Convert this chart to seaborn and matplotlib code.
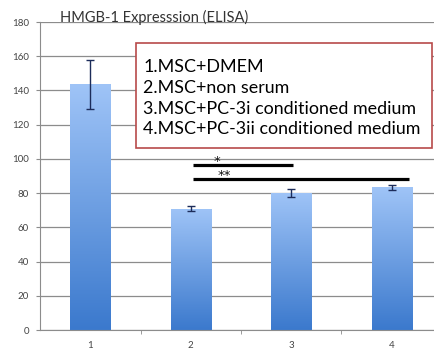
import matplotlib
matplotlib.use('Agg')
import matplotlib.pyplot as plt
import numpy as np
import pandas as pd
import seaborn as sns
from matplotlib.colors import LinearSegmentedColormap
from matplotlib.patches import Rectangle

groups = ['1', '2', '3', '4']
means = [143.5, 71.0, 80.2, 83.3]
errors = [14.5, 1.2, 2.2, 1.5]
legend_lines = ['1.MSC+DMEM', '2.MSC+non serum',
                '3.MSC+PC-3i conditioned medium',
                '4.MSC+PC-3ii conditioned medium']
# significance lines: (x start, x end, height, label, label x)
sig_lines = [(1.02, 2.02, 96.5, '*', 1.265), (1.02, 3.17, 88.2, '**', 1.33)]
y_ticks = [0, 20, 40, 60, 80, 100, 120, 140, 160, 180]

sns.set_style('white')
plt.rcParams['font.family'] = ['Lato', 'DejaVu Sans']

fig = plt.figure(figsize=(4.35, 3.49), dpi=100)
ax = fig.add_axes([0.092, 0.0544, 0.924, 0.8825])

df = pd.DataFrame({'group': groups, 'value': means})
sns.barplot(data=df, x='group', y='value', ax=ax, width=0.4,
            color='#6a9de3', edgecolor='none', errorbar=None)

# gradient fill inside each bar
cmap = LinearSegmentedColormap.from_list('bluegrad', ['#3b79cd', '#9fc4f7'])
grad = np.linspace(0, 1, 256).reshape(-1, 1)
for p in ax.patches:
    x0, y0 = p.get_x(), p.get_y()
    w, h = p.get_width(), p.get_height()
    im = ax.imshow(grad, cmap=cmap, origin='lower', aspect='auto',
                   extent=[x0, x0 + w, y0, y0 + h], zorder=2)
    im.set_clip_path(p)
    p.set_facecolor('none')

ax.errorbar(range(len(means)), means, yerr=errors, fmt='none',
            ecolor='#1c2c5a', elinewidth=1.0, capsize=3, capthick=1.0, zorder=4)

ax.set_xlim(-0.5, 3.5)
ax.set_ylim(0, 180)
ax.set_yticks(y_ticks)
ax.yaxis.grid(True, color='#8c8c8c', linewidth=0.9)
ax.set_axisbelow(True)
ax.set_xlabel('')
ax.set_ylabel('')
for s in ['top', 'right']:
    ax.spines[s].set_visible(False)
ax.spines['left'].set_color('#8c8c8c')
ax.spines['bottom'].set_color('#8c8c8c')
ax.tick_params(axis='y', labelsize=7, labelcolor='#444444', length=3,
               color='#8c8c8c', direction='out', left=True, pad=5)
ax.tick_params(axis='x', labelsize=7, labelcolor='#444444', length=0, pad=8)
ax.set_xticks([0.5, 1.5, 2.5], minor=True)
ax.tick_params(axis='x', which='minor', length=3, color='#8c8c8c', direction='out', bottom=True)

for xa, xb, yv, lab, lx in sig_lines:
    ax.plot([xa, xb], [yv, yv], color='black', lw=2.3, zorder=5, solid_capstyle='butt')
    ax.text(lx, yv, lab, fontsize=9.5, ha='center', va='baseline',
            color='#111111', family='DejaVu Sans', zorder=4)

ax.text(-0.3, 180.3, 'HMGB-1 Expresssion (ELISA)', fontsize=10.5, color='#333333',
        ha='left', va='baseline', clip_on=False)

ax.add_patch(Rectangle((0.455, 106.4), 2.945, 61.3, facecolor='white',
                       edgecolor='#b84a4a', linewidth=1.2, zorder=6, clip_on=False))
ax.text(0.525, 158.6, '\n'.join(legend_lines), fontsize=12.9, color='black',
        ha='left', va='top', linespacing=1.38, zorder=7)

fig.savefig('out.png', dpi=100)
